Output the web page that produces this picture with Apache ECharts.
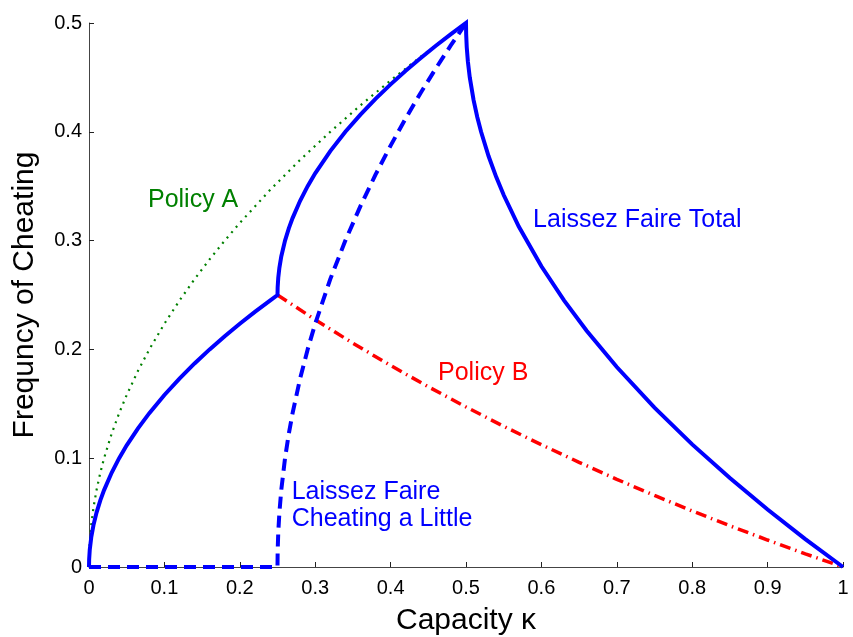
<!DOCTYPE html>
<html>
<head>
<meta charset="utf-8">
<script src="https://cdn.jsdelivr.net/npm/echarts@6/dist/echarts.min.js"></script>
<style>
html,body{margin:0;padding:0;background:#fff;}
#chart{width:853px;height:637px;}
</style>
</head>
<body>
<div id="chart"></div>
<script>
// ---- data ----
var xTickLabels = ['0','0.1','0.2','0.3','0.4','0.5','0.6','0.7','0.8','0.9','1'];
var yTickLabels = ['0','0.1','0.2','0.3','0.4','0.5'];

// Laissez Faire Total (solid blue)
var totalX = [0,0.0002,0.001,0.003,0.006,0.01,0.015,0.02,0.03,0.04,0.05,0.065,0.08,0.1,0.12,0.14,0.16,0.18,0.2,0.22,0.24,0.25,
  0.2502,0.251,0.2525,0.255,0.26,0.265,0.27,0.28,0.29,0.3,0.32,0.34,0.36,0.38,0.4,0.42,0.44,0.46,0.48,0.5,
  0.5002,0.501,0.5025,0.505,0.51,0.515,0.52,0.53,0.54,0.55,0.57,0.6,0.63,0.66,0.7,0.75,0.8,0.85,0.9,0.95,1];
var totalY = [0,0.0071,0.0158,0.0274,0.0387,0.05,0.0612,0.0707,0.0866,0.1,0.1118,0.1275,0.1414,0.1581,0.1732,0.1871,0.2,0.2121,0.2236,0.2345,0.2449,0.25,
  0.2571,0.2658,0.275,0.2854,0.3,0.3112,0.3207,0.3366,0.35,0.3618,0.3823,0.4,0.4158,0.4303,0.4436,0.4562,0.4679,0.4791,0.4898,0.5,
  0.49,0.4776,0.4646,0.45,0.4293,0.4134,0.4,0.3775,0.3586,0.3419,0.3129,0.2764,0.2451,0.2172,0.1838,0.1464,0.1127,0.0817,0.0528,0.0257,0];

// Laissez Faire Cheating a Little (dashed blue)
var littleX = [0,0.25,0.2502,0.251,0.2525,0.255,0.26,0.265,0.27,0.28,0.29,0.3,0.32,0.34,0.36,0.38,0.4,0.42,0.44,0.46,0.48,0.5];
var littleY = [0,0,0.0141,0.0316,0.05,0.0707,0.1,0.1225,0.1414,0.1732,0.2,0.2236,0.2646,0.3,0.3317,0.3606,0.3873,0.4123,0.4359,0.4583,0.4796,0.5];

// Policy A (dotted green)
var policyAX = [0,0.0002,0.001,0.003,0.006,0.01,0.015,0.02,0.03,0.04,0.05,0.065,0.08,0.1,0.12,0.14,0.16,0.18,0.2,0.24,0.28,0.32,0.36,0.4,0.44,0.48,0.5];
var policyAY = [0,0.01,0.0224,0.0387,0.0548,0.0707,0.0866,0.1,0.1225,0.1414,0.1581,0.1803,0.2,0.2236,0.2449,0.2646,0.2828,0.3,0.3162,0.3464,0.3742,0.4,0.4243,0.4472,0.469,0.4899,0.5];

// Policy B (dash-dot red)
var policyBX = [0.25,0.3,0.35,0.4,0.45,0.5,0.55,0.6,0.65,0.7,0.75,0.8,0.85,0.9,0.95,1];
var policyBY = [0.25,0.2273,0.2057,0.1852,0.1657,0.1471,0.1293,0.1124,0.0962,0.0806,0.0658,0.0515,0.0379,0.0248,0.0121,0];

// Text annotations (anchored in data coordinates, left-aligned)
var annText  = ['Policy A','Laissez Faire Total','Policy B','Laissez Faire\nCheating a Little'];
var annX     = [0.0782,0.589,0.4629,0.2688];
var annY     = [0.3373,0.3189,0.178,0.0563];
var annColor = ['#008000','#0000ff','#ff0000','#0000ff'];

function pairs(xs, ys){ return xs.map(function(x,i){ return [x, ys[i]]; }); }

var FONT = 'Liberation Sans, Arial, Helvetica, sans-serif';
var chart = echarts.init(document.getElementById('chart'), null, {renderer:'canvas'});

var annData = annText.map(function(t,i){
  return {value:[annX[i], annY[i]], label:{formatter:t, color:annColor[i]}};
});

chart.setOption({
  animation:false,
  backgroundColor:'#fff',
  grid:{left:89, right:10, top:23, bottom:70, containLabel:false, outerBoundsMode:'none'},
  xAxis:{
    type:'value', min:0, max:1, interval:0.1,
    name:'Capacity \u03ba', nameLocation:'middle', nameGap:39,
    nameTextStyle:{fontFamily:FONT, fontSize:30, color:'#000'},
    axisLine:{show:true, onZero:false, lineStyle:{color:'#444', width:1}},
    axisTick:{show:true, inside:true, length:5, lineStyle:{color:'#222'}},
    axisLabel:{fontFamily:FONT, fontSize:20, color:'#000', margin:11,
      formatter:function(v){ return xTickLabels[Math.round(v*10)]; }},
    splitLine:{show:false}
  },
  yAxis:{
    type:'value', min:0, max:0.5, interval:0.1,
    name:'Frequncy of Cheating', nameLocation:'middle', nameGap:49,
    nameTextStyle:{fontFamily:FONT, fontSize:30, color:'#000'},
    axisLine:{show:true, onZero:false, lineStyle:{color:'#444', width:1}},
    axisTick:{show:true, inside:true, length:5, lineStyle:{color:'#222'}},
    axisLabel:{fontFamily:FONT, fontSize:20, color:'#000', margin:7,
      formatter:function(v){ return yTickLabels[Math.round(v*10)]; }},
    splitLine:{show:false}
  },
  series:[
    {name:'Policy A', type:'line', data:pairs(policyAX, policyAY), showSymbol:false, clip:false, z:2,
      lineStyle:{color:'#008000', width:2.2, type:[2,5], cap:'butt', opacity:1}},
    {name:'Policy B', type:'line', data:pairs(policyBX, policyBY), showSymbol:false, clip:false, z:3,
      lineStyle:{color:'#ff0000', width:3.5, type:[11,5,1.5,5], cap:'butt'}},
    {name:'Laissez Faire Cheating a Little', type:'line', data:pairs(littleX, littleY), showSymbol:false, clip:false, z:4,
      lineStyle:{color:'#0000ff', width:4, type:[12,7], cap:'butt'}},
    {name:'Laissez Faire Total', type:'line', data:pairs(totalX, totalY), showSymbol:false, clip:false, z:5,
      lineStyle:{color:'#0000ff', width:4, type:'solid', join:'miter', miterLimit:4}},
    {name:'labels', type:'scatter', data:annData, symbolSize:0, z:6, silent:true,
      itemStyle:{opacity:1},
      label:{show:true, position:'right', distance:0, fontFamily:FONT, fontSize:25, lineHeight:27,
        align:'left', verticalAlign:'middle', opacity:1, textBorderWidth:0}}
  ]
});
</script>
</body>
</html>
